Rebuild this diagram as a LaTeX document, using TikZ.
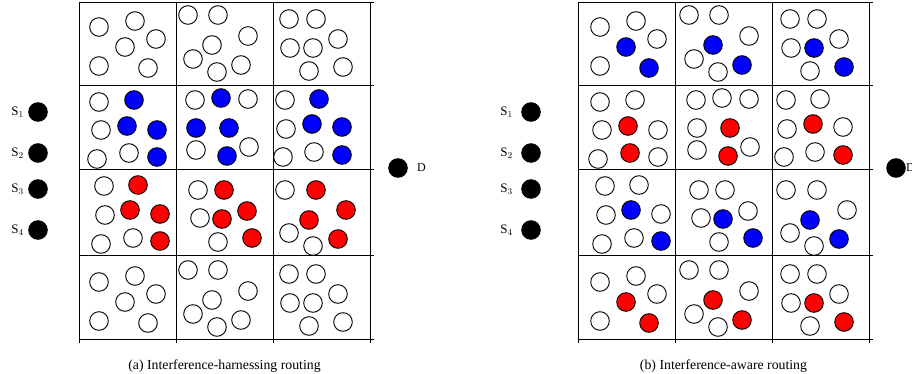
\documentclass[tikz,border=0pt]{standalone}
\usepackage{fontspec}
\setmainfont{Liberation Serif}
\begin{document}
\begin{tikzpicture}[x=1pt,y=-1pt,
  nd/.style={circle,draw=black,line width=0.9pt,minimum size=18.6pt,inner sep=0pt,fill=white},
  bl/.style={nd,fill=blue},
  rd/.style={nd,fill=red},
  src/.style={nd,fill=black},
  gridline/.style={line width=1pt,black},
  lbl/.style={font=\fontsize{12}{14}\selectfont,inner sep=0pt},
  slbl/.style={font=\fontsize{13}{15}\selectfont,inner sep=0pt},
  captext/.style={font=\fontsize{13.8}{16}\selectfont,inner sep=0pt,anchor=base}]
\useasboundingbox (0,0) rectangle (912,374);
% grids
\foreach \o in {0,499}{
  \foreach \xx in {79,176,273,370} \draw[gridline] (\xx+\o,3) -- (\xx+\o,343);
  \foreach \yy in {3,86,170,255,339} \draw[gridline] (79+\o,\yy) -- (374+\o,\yy);
}
% top and bottom rows (same pattern)
\foreach \x/\y/\r [count=\i] in {
  99/27/nd, 135/21/nd, 156/39/nd, 125/47/bl, 99/66/nd, 148/68/bl,
  188/15/nd, 218/15/nd, 248/36/nd, 212/45/bl, 193/59/nd, 217/72/nd, 241/65/bl,
  289/19/nd, 316/19/nd, 338/39/nd, 290/48/nd, 313/48/bl, 309/71/nd, 343/67/bl}{
  \node[nd] (ta\i) at (\x,\y) {};
  \node[nd] (ba\i) at (\x,\y+255) {};
  \node[\r] (tb\i) at (\x+501,\y) {};
}
\foreach \x/\y/\r [count=\i] in {
  99/27/nd, 135/21/nd, 156/39/nd, 125/47/rd, 99/66/nd, 148/68/rd,
  188/15/nd, 218/15/nd, 248/36/nd, 212/45/rd, 193/59/nd, 217/72/nd, 241/65/rd,
  289/19/nd, 316/19/nd, 338/39/nd, 290/48/nd, 313/48/rd, 309/71/nd, 343/67/rd}{
  \node[\r] (bb\i) at (\x+501,\y+255) {};
}
% middle rows
\foreach \x/\y/\l/\r [count=\i] in {
  99/102/nd/nd, 101/130/nd/nd, 97/159/nd/nd, 129/153/nd/rd, 134/100/bl/nd, 127/126/bl/rd, 157/130/bl/nd, 157/157/bl/nd,
  195/100/nd/nd, 248/99/nd/nd, 196/150/nd/nd, 249/147/nd/nd, 221/98/bl/nd, 196/128/bl/nd, 229/128/bl/rd, 227/156/bl/rd,
  285/100/nd/nd, 286/129/nd/nd, 283/157/nd/nd, 314/152/nd/nd, 319/99/bl/nd, 312/124/bl/rd, 342/127/bl/nd, 342/155/bl/rd,
  104/186/nd/nd, 105/215/nd/nd, 101/244/nd/nd, 133/238/nd/nd, 138/185/rd/nd, 130/210/rd/bl, 160/214/rd/nd, 160/241/rd/bl,
  198/190/nd/nd, 200/218/nd/nd, 218/242/nd/nd, 224/190/rd/nd, 222/219/rd/bl, 247/211/rd/nd, 252/238/rd/bl,
  285/190/nd/nd, 289/233/nd/nd, 313/246/nd/nd, 316/190/rd/nd, 309/220/rd/bl, 346/210/rd/nd, 338/239/rd/bl}{
  \node[\l] (ma\i) at (\x,\y) {};
  \node[\r] (mb\i) at (\x+501,\y) {};
}
% sources and destinations
\foreach \y [count=\i] in {112,153,189,230}{
  \node[src] (sa\i) at (38,\y) {};
  \node[slbl,anchor=east] (lsa\i) at (24,\y) {$\mathrm{S}_{\i}$};
  \node[src] (sb\i) at (531,\y) {};
  \node[slbl,anchor=east] (lsb\i) at (513,\y) {$\mathrm{S}_{\i}$};
}
\node[src] (da) at (398,168) {};
\node[lbl,anchor=west] (lda) at (417,168) {D};
\node[src] (db) at (896,168) {};
\node[lbl,anchor=west] (ldb) at (906,168) {D};
% captions
\node[captext] (capa) at (224.5,369) {(a) Interference-harnessing routing};
\node[captext] (capb) at (723.5,369) {(b) Interference-aware routing};
\end{tikzpicture}
\end{document}
